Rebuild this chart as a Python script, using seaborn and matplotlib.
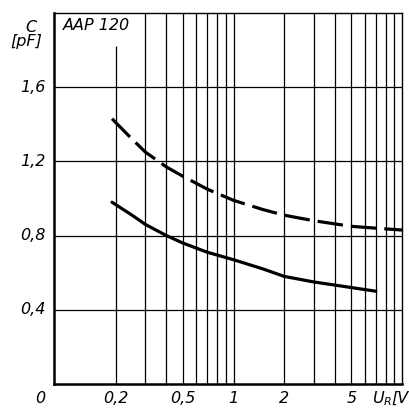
import numpy as np
import pandas as pd
import seaborn as sns
import matplotlib
matplotlib.use('Agg')
import matplotlib.pyplot as plt
from matplotlib import font_manager

# readings (U_R in V, C in pF)
u_solid = [0.19, 0.25, 0.3, 0.4, 0.5, 0.7, 1.0, 1.5, 2.0, 3.0, 5.0, 7.0]
c_solid = [0.98, 0.91, 0.86, 0.80, 0.76, 0.71, 0.67, 0.62, 0.58, 0.55, 0.52, 0.50]
u_dash = [0.19, 0.25, 0.3, 0.4, 0.5, 0.7, 1.0, 1.5, 2.0, 3.0, 5.0, 7.0, 10.0]
c_dash = [1.43, 1.32, 1.25, 1.17, 1.12, 1.05, 0.99, 0.94, 0.91, 0.88, 0.85, 0.84, 0.83]

x_grid = [0.2, 0.3, 0.4, 0.5, 0.6, 0.7, 0.8, 0.9, 1, 2, 3, 4, 5, 6, 7, 8, 9]
y_grid = [0.4, 0.8, 1.2, 1.6]
x_ticks = [0.2, 0.5, 1, 2, 5]
x_labels = ['0,2', '0,5', '1', '2', '5']
y_ticks = [0.4, 0.8, 1.2, 1.6]
y_labels = ['0,4', '0,8', '1,2', '1,6']

df = pd.concat([
    pd.DataFrame({'U': u_solid, 'C': c_solid, 'curve': 'a'}),
    pd.DataFrame({'U': u_dash, 'C': c_dash, 'curve': 'b'}),
])

sns.set_theme(style='white')
names = {f.name for f in font_manager.fontManager.ttflist}
fam = 'DejaVu Sans'
for cand in ['Liberation Sans Narrow', 'DejaVu Sans Condensed']:
    if cand in names:
        fam = cand
        break
plt.rcParams['font.family'] = [fam, 'DejaVu Sans']
plt.rcParams['font.style'] = 'italic'
plt.rcParams['text.color'] = 'black'

fig = plt.figure(figsize=(4.1, 4.08), dpi=100)
ax = fig.add_axes([54 / 410, 24 / 408, 348 / 410, 371 / 408])
ax.set_xscale('log')
ax.set_xlim(0.086, 10)
ax.set_ylim(0, 2.0)

for x in x_grid:
    top = 1.82 if x == 0.2 else 2.0
    ax.vlines(x, 0, top, color='black', lw=0.9, zorder=1)
ax.hlines(y_grid, 0.086, 10, color='black', lw=0.9, zorder=1)

sns.lineplot(data=df, x='U', y='C', style='curve', dashes={'a': '', 'b': (8, 2.5)},
             color='black', lw=2.3, legend=False, ax=ax, sort=True, estimator=None)

for s in ['left', 'bottom']:
    ax.spines[s].set_linewidth(1.8)
for s in ['top', 'right']:
    ax.spines[s].set_linewidth(1.0)
for s in ax.spines.values():
    s.set_color('black')

ax.set_xticks([])
ax.set_yticks([])
ax.minorticks_off()
ax.set_xlabel('')
ax.set_ylabel('')

fs = 11.5
yb = -0.051
tr = ax.get_xaxis_transform()
for x, lab in zip(x_ticks, x_labels):
    ax.text(x, yb, lab, transform=tr, ha='center', va='baseline', fontsize=fs)
ax.text(6.6, yb, r'$U_R$', transform=tr, ha='left', va='baseline', fontsize=fs,
        math_fontfamily='dejavusans')
ax.text(8.7, yb, '[V', transform=tr, ha='left', va='baseline', fontsize=fs)
ax.text(-0.04, yb, '0', transform=ax.transAxes, ha='center', va='baseline', fontsize=fs)

tr2 = ax.get_yaxis_transform()
for y, lab in zip(y_ticks, y_labels):
    ax.text(-0.025, y, lab, transform=tr2, ha='right', va='center', fontsize=fs)
ax.text(-0.066, 0.962, 'C', transform=ax.transAxes, ha='center', va='center', fontsize=fs)
ax.text(-0.08, 0.922, '[pF]', transform=ax.transAxes, ha='center', va='center', fontsize=fs)
ax.text(0.025, 0.965, 'AAP 120', transform=ax.transAxes, ha='left', va='center', fontsize=fs)

fig.savefig('out.png', dpi=100)
